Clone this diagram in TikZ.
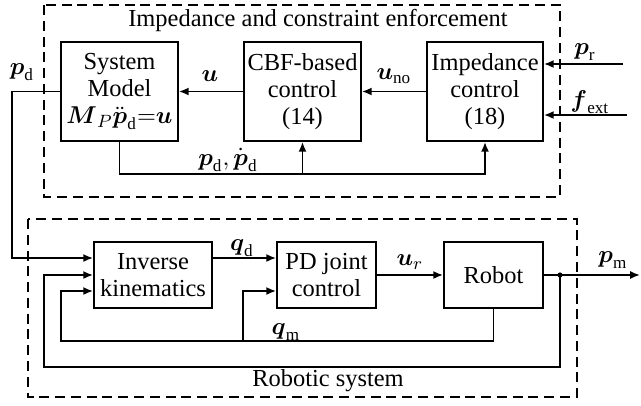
\documentclass[tikz,border=0pt]{standalone}
\usepackage{amsmath}
\usepackage{fontspec}
\setmainfont{Liberation Serif}
\usetikzlibrary{arrows.meta}
\def\pxu{0.45pt}
\newcommand{\bv}[1]{\boldsymbol{#1}}
\newcommand{\figfont}{\fontsize{11}{12.2}\selectfont}
\begin{document}
\begin{tikzpicture}[x=\pxu, y=-\pxu,
  blk/.style={draw, line width=0.8pt, align=center, inner sep=0pt, font=\figfont},
  grp/.style={draw, dash pattern=on 4.5pt off 2.6pt, line width=0.7pt},
  sig/.style={line width=0.8pt},
  arr/.style={sig, -{Latex[length=4.4pt,width=3.6pt]}},
  lbl/.style={inner sep=0pt, font=\figfont}]
\useasboundingbox (0,0) rectangle (641,405);

% group frames
\draw[grp] (44,5) rectangle (560,197);
\draw[grp] (28,219) rectangle (577,397);
\node[lbl] (tImp) at (318,20) {Impedance and constraint enforcement};
\node[lbl] (tRob) at (328,381) {Robotic system};

% upper blocks
\node[blk, minimum width={117*\pxu}, minimum height={99*\pxu}] (sm) at (119.5,91.5)
  {System\\Model\\$\bv{M}_{P}\ddot{\bv{p}}_{\text{d}}{=}\bv{u}$};
\node[blk, minimum width={117*\pxu}, minimum height={99*\pxu}] (cbf) at (302.5,91.5)
  {CBF-based\\control\\(14)};
\node[blk, minimum width={116*\pxu}, minimum height={99*\pxu}] (imp) at (485,91.5)
  {Impedance\\control\\(18)};

% lower blocks
\node[blk, minimum width={118*\pxu}, minimum height={66*\pxu}] (ik) at (153,275)
  {Inverse\\kinematics};
\node[blk, minimum width={99*\pxu}, minimum height={66*\pxu}] (pd) at (326.5,275)
  {PD joint\\control};
\node[blk, minimum width={99*\pxu}, minimum height={66*\pxu}] (rob) at (493.5,275)
  {Robot};

% helper points
\coordinate (prIn) at (623,64);
\coordinate (feIn) at (627,115);
\coordinate (fbL) at (119.5,174);
\coordinate (pdTurn) at (12,258);
\coordinate (qdRow) at (0,258);
\coordinate (qmRow) at (0,291);
\coordinate (qmL) at (61,341);
\coordinate (qmB) at (243,341);
\coordinate (pmL) at (44,367);
\coordinate (out) at (640,275);
\fill (560,275) circle (2.6) coordinate (jn);

% upper signals
\draw[arr] (cbf.west) -- (sm.west -| sm.east);
\draw[arr] (imp.west) -- (cbf.east);
\draw[arr] (prIn) -- (imp.east |- prIn);
\draw[arr] (feIn) -- (imp.east |- feIn);
\draw[arr] (sm.south) -- (fbL) -| (imp.south);
\draw[arr] (cbf.south |- fbL) -- (cbf.south);
\draw[arr] (sm.west) -| (pdTurn) -- (ik.west |- pdTurn);

% lower signals
\draw[arr] (ik.east |- qdRow) -- (pd.west |- qdRow);
\draw[arr] (pd.east) -- (rob.west);
\draw[arr] (rob.east) -- (out);
\draw[arr] (rob.south) |- (qmL) |- (ik.west |- qmRow);
\draw[arr] (qmB) |- (pd.west |- qmRow);
\draw[arr] (jn) |- (pmL) |- (ik.west);

% signal labels
\node[lbl] (lu) at (210,76) {$\bv{u}$};
\node[lbl] (luno) at (394,76) {$\bv{u}_{\text{no}}$};
\node[lbl] (lpr) at (585,52) {$\bv{p}_{\text{r}}$};
\node[lbl] (lfe) at (590,102) {$\bv{f}_{\text{ext}}$};
\node[lbl] (lfb) at (228,160) {$\bv{p}_{\text{d}},\dot{\bv{p}}_{\text{d}}$};
\node[lbl] (lpd) at (22,72) {$\bv{p}_{\text{d}}$};
\node[lbl] (lqd) at (242,248) {$\bv{q}_{\text{d}}$};
\node[lbl] (lur) at (410,262) {$\bv{u}_{r}$};
\node[lbl] (lpm) at (613,260) {$\bv{p}_{\text{m}}$};
\node[lbl] (lqm) at (286,332) {$\bv{q}_{\text{m}}$};
\end{tikzpicture}
\end{document}
